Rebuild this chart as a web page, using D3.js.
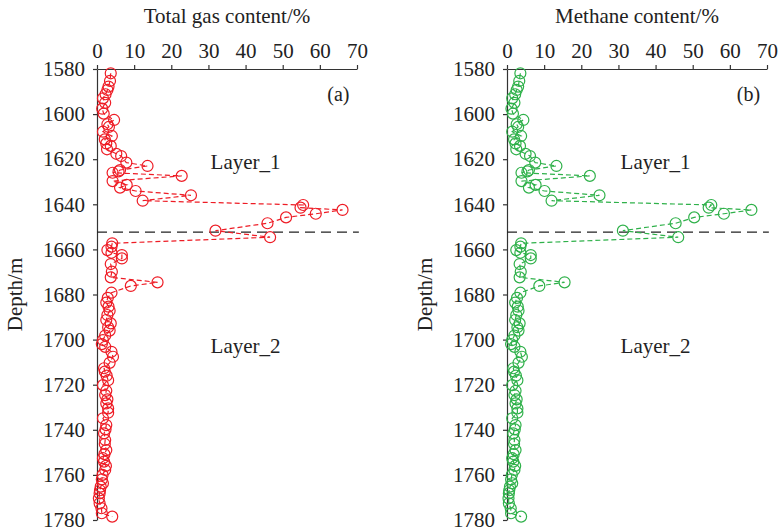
<!DOCTYPE html>
<html>
<head>
<meta charset="utf-8">
<script src="https://cdn.jsdelivr.net/npm/d3@7"></script>
<style>
  body { margin: 0; background: #fff; }
  svg text { font-family: "Liberation Serif", "Times New Roman", serif; fill: #222; }
</style>
</head>
<body>
<svg id="chart" width="779" height="532"></svg>
<script>
// sample depths (m), shared by both logs
const depths = [
  1581.9, 1585.3, 1587.8, 1589.3, 1591.2, 1593.0, 1595.0, 1597.6, 1599.8, 1602.6,
  1604.5, 1605.7, 1607.8, 1609.7, 1611.2, 1613.0, 1614.1, 1615.6, 1617.6, 1618.6,
  1621.5, 1623.0, 1624.8, 1625.4, 1626.0, 1627.4, 1629.7, 1631.4, 1632.6, 1634.1,
  1636.0, 1638.4, 1640.3, 1641.5, 1642.5, 1644.2, 1645.8, 1648.4, 1651.7, 1654.6,
  1657.3, 1658.8, 1660.3, 1661.5, 1662.5, 1664.0, 1666.5, 1669.9, 1672.4, 1674.6,
  1676.2, 1679.2, 1681.5, 1683.6, 1685.4, 1687.2, 1689.1, 1691.3, 1692.8, 1694.5,
  1696.0, 1698.2, 1700.2, 1702.0, 1703.2, 1705.4, 1707.6, 1710.3, 1712.7, 1714.2,
  1716.0, 1718.0, 1720.2, 1722.7, 1724.6, 1726.5, 1728.3, 1730.5, 1732.4, 1734.9,
  1737.9, 1739.8, 1741.6, 1744.5, 1746.3, 1749.0, 1750.8, 1752.6, 1754.1, 1756.0,
  1757.8, 1760.0, 1762.0, 1763.7, 1765.2, 1766.8, 1768.2, 1770.4, 1772.6, 1774.8,
  1777.0, 1778.5
];
const totalGas = [
  3.7, 3.5, 3.1, 2.8, 2.3, 1.6, 2.2, 1.4, 1.8, 4.6,
  2.8, 3.2, 1.6, 4.0, 2.1, 2.5, 3.7, 2.7, 5.2, 6.5,
  7.9, 13.6, 6.2, 5.8, 4.2, 22.8, 4.2, 8.0, 6.2, 10.4,
  25.3, 12.3, 55.5, 54.8, 66.1, 58.9, 50.9, 45.9, 31.9, 46.6,
  4.1, 3.9, 2.8, 3.9, 6.7, 6.7, 3.7, 4.0, 3.7, 16.3,
  9.1, 3.9, 2.9, 2.5, 3.1, 3.4, 2.8, 2.5, 3.7, 3.0,
  3.4, 2.2, 1.6, 1.3, 2.2, 3.9, 4.3, 3.4, 1.9, 2.1,
  2.6, 3.0, 1.6, 2.5, 2.2, 2.8, 2.5, 3.0, 3.0, 1.6,
  2.5, 2.3, 1.9, 2.2, 2.1, 2.5, 2.0, 1.6, 1.9, 2.4,
  2.2, 1.5, 1.3, 1.6, 1.0, 0.8, 0.7, 0.5, 0.7, 1.2,
  1.3, 4.1
];
const methane = [
  3.6, 3.3, 3.0, 2.6, 2.2, 1.4, 2.0, 1.2, 1.6, 4.4,
  2.6, 3.0, 1.4, 3.8, 1.9, 2.3, 3.5, 2.5, 5.0, 6.2,
  7.6, 13.3, 5.9, 5.5, 3.9, 22.3, 3.9, 7.7, 5.9, 10.1,
  24.9, 12.0, 55.0, 54.3, 65.8, 58.4, 50.4, 45.4, 31.2, 46.1,
  3.8, 3.6, 2.5, 3.6, 6.4, 6.4, 3.4, 3.7, 3.4, 15.5,
  8.7, 3.6, 2.7, 2.2, 2.9, 3.1, 2.5, 2.2, 3.4, 2.8,
  3.1, 2.0, 1.4, 1.1, 2.0, 3.6, 4.0, 3.1, 1.7, 1.9,
  2.4, 2.8, 1.4, 2.3, 2.0, 2.6, 2.3, 2.8, 2.8, 1.4,
  2.3, 2.1, 1.7, 2.0, 1.9, 2.3, 1.8, 1.4, 1.7, 2.2,
  2.0, 1.3, 1.1, 1.4, 0.8, 0.6, 0.5, 0.4, 0.5, 1.0,
  1.1, 3.8
];
const xTicks = [0, 10, 20, 30, 40, 50, 60, 70];
const yTicks = [1580, 1600, 1620, 1640, 1660, 1680, 1700, 1720, 1740, 1760, 1780];
const boundaryDepth = 1652.3;

const panels = [
  { left: 97, title: "Total gas content/%", tag: "(a)", values: totalGas, color: "#ee1c25" },
  { left: 507, title: "Methane content/%", tag: "(b)", values: methane, color: "#2fb14a" }
];

const plotW = 260, plotTop = 69, plotBottom = 520;
const serif = "'Times New Roman', 'Liberation Serif', serif";
const svg = d3.select("#chart");

panels.forEach(p => {
  const x = d3.scaleLinear().domain([0, 70]).range([p.left, p.left + plotW]);
  const y = d3.scaleLinear().domain([1580, 1780]).range([plotTop, plotBottom]);
  const g = svg.append("g");

  // axes
  const xAxis = g.append("g")
    .attr("transform", `translate(0,${plotTop})`)
    .call(d3.axisTop(x).tickValues(xTicks).tickFormat(d3.format("d"))
      .tickSize(4).tickSizeOuter(0).tickPadding(7));
  const yAxis = g.append("g")
    .attr("transform", `translate(${p.left},0)`)
    .call(d3.axisLeft(y).tickValues(yTicks).tickFormat(d3.format("d"))
      .tickSize(4).tickSizeOuter(0).tickPadding(8));
  [xAxis, yAxis].forEach(a => {
    a.selectAll("path, line").attr("stroke", "#333").attr("stroke-width", 1.2);
    a.selectAll("text").attr("fill", "#222")
      .style("font-family", serif).style("font-size", "21px");
  });

  // titles
  g.append("text")
    .attr("x", x(35)).attr("y", 23)
    .attr("text-anchor", "middle")
    .style("font-family", serif).style("font-size", "21px")
    .text(p.title);
  g.append("text")
    .attr("transform", `translate(${p.left - 75},${(plotTop + plotBottom) / 2}) rotate(-90)`)
    .attr("text-anchor", "middle")
    .style("font-family", serif).style("font-size", "21px")
    .text("Depth/m");

  // layer boundary
  g.append("line")
    .attr("x1", x(0)).attr("x2", x(70.5))
    .attr("y1", y(boundaryDepth)).attr("y2", y(boundaryDepth))
    .attr("stroke", "#222").attr("stroke-width", 1.2)
    .attr("stroke-dasharray", "10,6");

  g.append("text").attr("x", x(40)).attr("y", y(1624.5))
    .attr("text-anchor", "middle")
    .style("font-family", serif).style("font-size", "21px").text("Layer_1");
  g.append("text").attr("x", x(40)).attr("y", y(1706))
    .attr("text-anchor", "middle")
    .style("font-family", serif).style("font-size", "21px").text("Layer_2");
  g.append("text").attr("x", x(65)).attr("y", y(1594))
    .attr("text-anchor", "middle")
    .style("font-family", serif).style("font-size", "20px").text(p.tag);

  // data
  const data = depths.map((d, i) => ({ depth: d, v: p.values[i] }));
  const line = d3.line().x(d => x(d.v)).y(d => y(d.depth));
  g.append("path")
    .datum(data)
    .attr("d", line)
    .attr("fill", "none")
    .attr("stroke", p.color)
    .attr("stroke-width", 1.2)
    .attr("stroke-dasharray", "5,3");
  g.selectAll("circle").data(data)
    .enter().append("circle")
    .attr("cx", d => x(d.v))
    .attr("cy", d => y(d.depth))
    .attr("r", 5.5)
    .attr("fill", "none")
    .attr("stroke", p.color)
    .attr("stroke-width", 1.2);
});
</script>
</body>
</html>
